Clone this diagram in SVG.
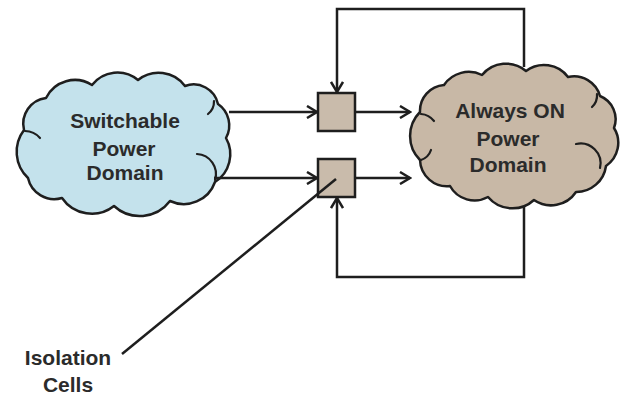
<svg xmlns="http://www.w3.org/2000/svg" width="629" height="397" viewBox="0 0 629 397">
<style>
.cloud{stroke:#1e1e1e;stroke-width:2.5;stroke-linejoin:round}
.curl{fill:none;stroke:#1e1e1e;stroke-width:2.2;stroke-linecap:round}
.cell{fill:#c9bbab;stroke:#1e1e1e;stroke-width:2.5}
.conn{fill:none;stroke:#1e1e1e;stroke-width:2.5}
.lbl{font-family:"Liberation Sans",Arial,sans-serif;font-weight:bold;font-size:21px;fill:#2b2b2b;text-anchor:middle}
</style>
<defs>
<marker id="arr" markerWidth="14" markerHeight="14" refX="12" refY="7" orient="auto" markerUnits="userSpaceOnUse">
<path d="M2,1 L12,7 L2,13" fill="none" stroke="#1e1e1e" stroke-width="2.5" stroke-linejoin="miter"/>
</marker>
</defs>
<rect width="629" height="397" fill="#ffffff"/>

<g id="switchable-domain">
<path class="cloud" fill="#c4e2ec" d="M24,130 A26,26 0 0 1 46,98 A32,32 0 0 1 92,85 A32,32 0 0 1 138,80 A33,33 0 0 1 185,86 A25,25 0 0 1 218,104 A26,26 0 0 1 226,138 A33,33 0 0 1 215,182 A33,33 0 0 1 170,201 A38,38 0 0 1 114,206 A36,36 0 0 1 62,198 A27,27 0 0 1 28,178 A36,36 0 0 1 24,130 Z"/>
<path class="curl" d="M197,154 A20,20 0 0 1 215,180"/>
<path class="curl" d="M214,101 A16,16 0 0 1 208,114"/>
<path class="curl" d="M25,131 A20,20 0 0 1 40,138"/>
<text class="lbl" x="125" y="128">Switchable</text>
<text class="lbl" x="124" y="156">Power</text>
<text class="lbl" x="125" y="180">Domain</text>
</g>

<g id="always-on-domain">
<path class="cloud" fill="#c8b8a6" d="M420,112 A26,26 0 0 1 444,85 A30,30 0 0 1 482,75 A31,31 0 0 1 526,71 A30,30 0 0 1 568,77 A27,27 0 0 1 600,96 A25,25 0 0 1 614,128 A28,28 0 0 1 606,166 A30,30 0 0 1 576,192 A30,30 0 0 1 534,200 A32,32 0 0 1 488,197 A28,28 0 0 1 450,186 A27,27 0 0 1 420,160 A34,34 0 0 1 420,112 Z"/>
<path class="curl" d="M576,144 A20,20 0 0 1 600,168"/>
<path class="curl" d="M597,94 A16,16 0 0 1 592,107"/>
<path class="curl" d="M421,114 A18,18 0 0 1 434,121"/>
<path class="curl" d="M421,160 A16,16 0 0 0 431,150"/>
<text class="lbl" x="510" y="118">Always ON</text>
<text class="lbl" x="508" y="146">Power</text>
<text class="lbl" x="508" y="172">Domain</text>
</g>

<g id="isolation-cell-1">
<rect class="cell" x="318" y="93" width="37" height="38"/>
</g>
<g id="isolation-cell-2">
<rect class="cell" x="318" y="159" width="37" height="38"/>
</g>

<g id="isolation-label">
<text class="lbl" x="68" y="365">Isolation</text>
<text class="lbl" x="68" y="392">Cells</text>
</g>

<g id="connectors">
<path class="conn" d="M229,112 H317" marker-end="url(#arr)"/>
<path class="conn" d="M214,178 H317" marker-end="url(#arr)"/>
<path class="conn" d="M355,112 H410" marker-end="url(#arr)"/>
<path class="conn" d="M355,178 H410" marker-end="url(#arr)"/>
<path class="conn" d="M524,67 V9 H337 V92" marker-end="url(#arr)"/>
<path class="conn" d="M524,206 V277 H337 V198" marker-end="url(#arr)"/>
<path class="conn" d="M122,354 L336,179"/>
</g>
</svg>
